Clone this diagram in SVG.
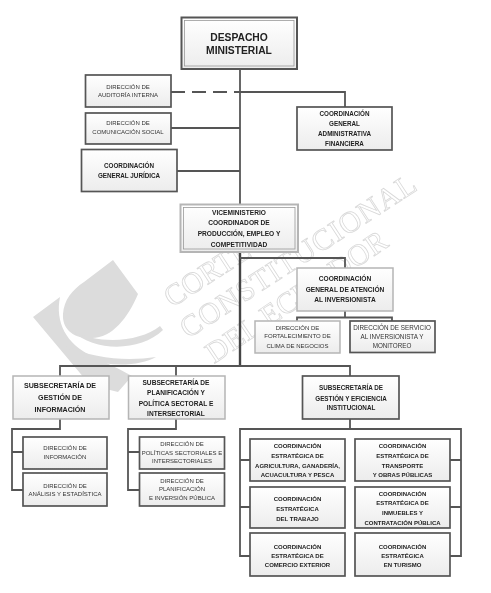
<svg xmlns="http://www.w3.org/2000/svg" width="491" height="593" viewBox="0 0 491 593">
<style>
text{font-family:"Liberation Sans",Arial,sans-serif;text-anchor:middle;fill:#333}
.b{font-weight:bold;fill:#222}
.s6{font-size:6px}.s62{font-size:6.3px}.s65{font-size:6.6px}.s7{font-size:7.1px}.s10{font-size:10.3px}
.box{fill:url(#g);stroke:#555;stroke-width:1.7}
.light{fill:url(#g);stroke:#b5b5b5;stroke-width:1.5}
.inner{fill:none;stroke:#999;stroke-width:.8}
.wm{font-family:"Liberation Serif",serif;font-size:30px;fill:none;stroke:#d9d9d9;stroke-width:.8;text-anchor:start}
.lg{fill:#dcdcdc}
.c{fill:none;stroke:#555;stroke-width:1.8}
</style>
<defs>
<linearGradient id="g" x1="0" y1="0" x2="0" y2="1"><stop offset="0" stop-color="#fff"/><stop offset="1" stop-color="#ececec"/></linearGradient>
<filter id="blur" x="-2%" y="-2%" width="104%" height="104%"><feGaussianBlur stdDeviation="0.45"/></filter>
</defs>
<rect width="491" height="593" fill="#fff"/>
<g filter="url(#blur)">
<g id="watermark">
<path class="lg" d="M113,260 L138,294 C128,318 112,338 92,338 C72,339 62,328 63,314 C64,300 72,290 84,282 Z"/>
<path class="lg" d="M33,317 L60,297 C55,322 66,344 92,356 C106,363 118,368 132,376 L118,392 L90,385 Z"/>
<path class="lg" d="M72,331 C100,345 140,342 160,326 L163,330 C140,352 95,352 72,331 Z"/>
<path class="lg" d="M65,345 C95,360 130,361 156,357 C135,369 88,368 65,345 Z"/>
<text class="wm" transform="translate(172,308) rotate(-33)">CORTE</text>
<text class="wm" transform="translate(188,339) rotate(-33)" textLength="275">CONSTITUCIONAL</text>
<text class="wm" transform="translate(214,364) rotate(-34)" textLength="212">DEL ECUADOR</text>
</g>
<g id="connectors">
<path class="c" d="M240,69V252"/>
<path class="c" d="M240,252V366" style="stroke-width:2.4;stroke:#444"/>
<path class="c" d="M171,92H240" stroke-dasharray="14 7"/>
<path class="c" d="M240,92H345V107"/>
<path class="c" d="M171,128H240M177,171H240"/>
<path class="c" d="M240,258H345V268M345,311V318M297,321V317.500H392V321"/>
<path class="c" d="M60,376V366H350V376M176,366V376"/>
<path class="c" d="M60,419V429H12V490H23M12,452H23"/>
<path class="c" d="M176,419V429H128V490H139M128,452H139"/>
<path class="c" d="M350,419V429H240V556H250M240,460H250M240,507H250M350,429H461V556H450M461,460H450M461,507H450"/>
</g>
<g id="despacho"><rect class="box" x="181.500" y="17.500" width="115.500" height="51.500" style="stroke-width:2"/><rect class="inner" x="184.500" y="20.500" width="109.500" height="45.500"/><text class="b s10" x="239" y="41">DESPACHO</text><text class="b s10" x="239" y="54">MINISTERIAL</text></g>
<g id="auditoria"><rect class="box" x="85.500" y="75" width="85.500" height="32"/><text class="s6" x="128" y="89">DIRECCIÓN DE</text><text class="s6" x="128" y="97">AUDITORÍA INTERNA</text></g>
<g id="comunicacion"><rect class="box" x="85.500" y="113" width="85.500" height="31"/><text class="s6" x="128" y="125">DIRECCIÓN DE</text><text class="s6" x="128" y="134">COMUNICACIÓN SOCIAL</text></g>
<g id="juridica"><rect class="box" x="81.500" y="149.500" width="95.500" height="42"/><text class="b s62" x="129" y="167.500">COORDINACIÓN</text><text class="b s62" x="129" y="178">GENERAL JURÍDICA</text></g>
<g id="administrativa"><rect class="box" x="297" y="107" width="95" height="43"/><text class="b s62" x="344.500" y="115.500">COORDINACIÓN</text><text class="b s62" x="344.500" y="125.500">GENERAL</text><text class="b s62" x="344.500" y="135.500">ADMINISTRATIVA</text><text class="b s62" x="344.500" y="145.500">FINANCIERA</text></g>
<g id="viceministerio"><rect class="light" x="180.500" y="204.500" width="117.500" height="47.500" style="stroke-width:2"/><rect class="inner" x="183.500" y="207.500" width="111.500" height="41.500"/><text class="b s65" x="239" y="214.500">VICEMINISTERIO</text><text class="b s65" x="239" y="224.500">COORDINADOR DE</text><text class="b s65" x="239" y="235.500">PRODUCCIÓN, EMPLEO Y</text><text class="b s65" x="239" y="246.500">COMPETITIVIDAD</text></g>
<g id="atencion"><rect class="light" x="297" y="268" width="96" height="43"/><text class="b s65" x="345" y="281">COORDINACIÓN</text><text class="b s65" x="345" y="292">GENERAL DE ATENCIÓN</text><text class="b s65" x="345" y="302">AL INVERSIONISTA</text></g>
<g id="fortalecimiento"><rect class="light" x="255" y="321" width="85" height="32"/><text class="s6" x="297.500" y="329.500">DIRECCIÓN DE</text><text class="s6" x="297.500" y="338">FORTALECIMIENTO DE</text><text class="s6" x="297.500" y="348">CLIMA DE NEGOCIOS</text></g>
<g id="servicio"><rect class="box" x="350" y="321" width="85" height="31.500"/><text class="s62" x="392" y="329.500">DIRECCIÓN DE SERVICIO</text><text class="s62" x="392" y="338.500">AL INVERSIONISTA Y</text><text class="s62" x="392" y="348">MONITOREO</text></g>
<g id="sub-informacion"><rect class="light" x="13" y="376" width="96" height="43"/><text class="b s7" x="60" y="388">SUBSECRETARÍA DE</text><text class="b s7" x="60" y="400">GESTIÓN DE</text><text class="b s7" x="60" y="412">INFORMACIÓN</text></g>
<g id="sub-planificacion"><rect class="light" x="128.500" y="376" width="96.500" height="43"/><text class="b s65" x="176" y="384.500">SUBSECRETARÍA DE</text><text class="b s65" x="176" y="394.500">PLANIFICACIÓN Y</text><text class="b s65" x="176" y="405.500">POLÍTICA SECTORAL E</text><text class="b s65" x="176" y="415.500">INTERSECTORIAL</text></g>
<g id="dir-informacion"><rect class="box" x="23" y="437" width="84" height="32"/><text class="s6" x="65" y="450">DIRECCIÓN DE</text><text class="s6" x="65" y="459">INFORMACIÓN</text></g>
<g id="dir-analisis"><rect class="box" x="23" y="473" width="84" height="33"/><text class="s6" x="65" y="488">DIRECCIÓN DE</text><text class="s6" x="65" y="496">ANÁLISIS Y ESTADÍSTICA</text></g>
<g id="dir-politicas"><rect class="box" x="139.500" y="437" width="85" height="32"/><text class="s6" x="182" y="446">DIRECCIÓN DE</text><text class="s6" x="182" y="455">POLÍTICAS SECTORIALES E</text><text class="s6" x="182" y="463">INTERSECTORIALES</text></g>
<g id="dir-planificacion"><rect class="box" x="139.500" y="473" width="85" height="33"/><text class="s6" x="182" y="483">DIRECCIÓN DE</text><text class="s6" x="182" y="491">PLANIFICACIÓN</text><text class="s6" x="182" y="500">E INVERSIÓN PÚBLICA</text></g>
<g id="sub-gestion"><rect class="box" x="302.500" y="376" width="96.500" height="43"/><text class="b s62" x="351" y="389.500">SUBSECRETARÍA DE</text><text class="b s62" x="351" y="400.500">GESTIÓN Y EFICIENCIA</text><text class="b s62" x="351" y="410">INSTITUCIONAL</text></g>
<g id="agricultura"><rect class="box" x="250" y="439" width="95" height="42"/><text class="b s6" x="297.500" y="448">COORDINACIÓN</text><text class="b s6" x="297.500" y="458">ESTRATÉGICA DE</text><text class="b s6" x="297.500" y="467.500">AGRICULTURA, GANADERÍA,</text><text class="b s6" x="297.500" y="477">ACUACULTURA Y PESCA</text></g>
<g id="transporte"><rect class="box" x="355" y="439" width="95" height="42"/><text class="b s6" x="402.500" y="448">COORDINACIÓN</text><text class="b s6" x="402.500" y="458">ESTRATÉGICA DE</text><text class="b s6" x="402.500" y="467.500">TRANSPORTE</text><text class="b s6" x="402.500" y="477">Y OBRAS PÚBLICAS</text></g>
<g id="trabajo"><rect class="box" x="250" y="487" width="95" height="41"/><text class="b s6" x="297.500" y="500.500">COORDINACIÓN</text><text class="b s6" x="297.500" y="510.500">ESTRATÉGICA</text><text class="b s6" x="297.500" y="520.500">DEL TRABAJO</text></g>
<g id="inmuebles"><rect class="box" x="355" y="487" width="95" height="41"/><text class="b s6" x="402.500" y="495.500">COORDINACIÓN</text><text class="b s6" x="402.500" y="505">ESTRATÉGICA DE</text><text class="b s6" x="402.500" y="514.500">INMUEBLES Y</text><text class="b s6" x="402.500" y="524.500">CONTRATACIÓN PÚBLICA</text></g>
<g id="comercio"><rect class="box" x="250" y="533" width="95" height="43"/><text class="b s6" x="297.500" y="548.500">COORDINACIÓN</text><text class="b s6" x="297.500" y="557.500">ESTRATÉGICA DE</text><text class="b s6" x="297.500" y="566.500">COMERCIO EXTERIOR</text></g>
<g id="turismo"><rect class="box" x="355" y="533" width="95" height="43"/><text class="b s6" x="402.500" y="548.500">COORDINACIÓN</text><text class="b s6" x="402.500" y="557.500">ESTRATÉGICA</text><text class="b s6" x="402.500" y="566.500">EN TURISMO</text></g>
</g>
</svg>
